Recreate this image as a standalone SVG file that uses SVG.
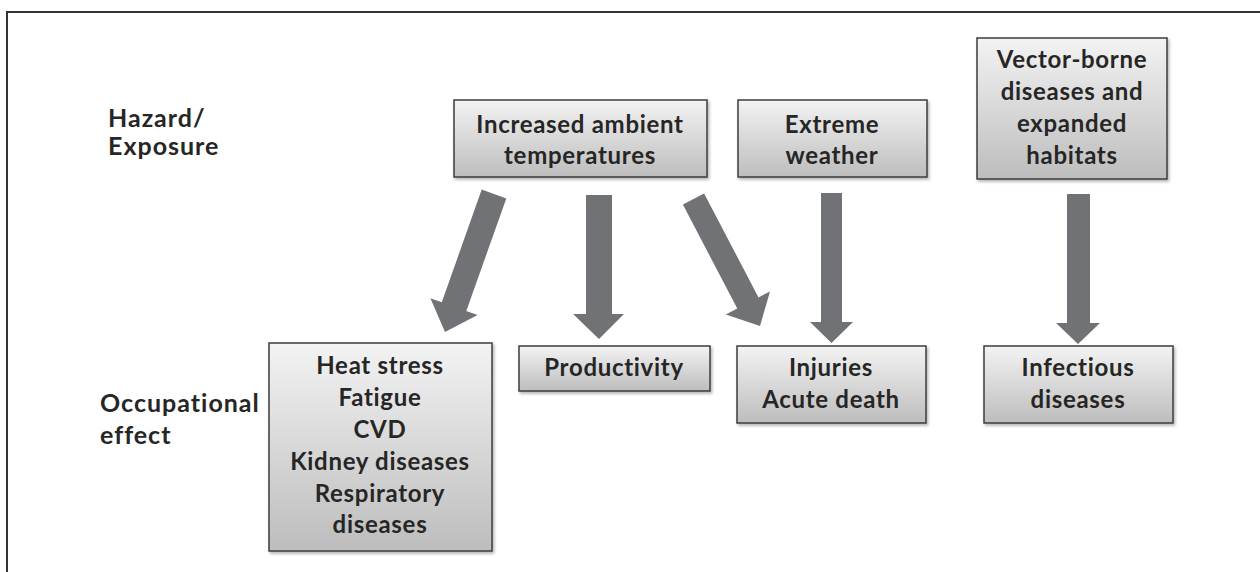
<svg xmlns="http://www.w3.org/2000/svg" width="1260" height="572" viewBox="0 0 1260 572">
<style>
  .t { font-family: Lato, "Open Sans", "Liberation Sans", sans-serif; font-weight: 700; font-size: 24px; letter-spacing: 0.7px; fill: #262626; }
  .lbl { font-size: 25px; letter-spacing: 1px; }
  .c { text-anchor: middle; }
  .box { fill: url(#g); stroke: #3c3c3c; stroke-width: 1.5; filter: url(#sh); }
  .arr { fill: #717275; stroke: none; }
  .frame { stroke: #333; stroke-width: 2; fill: none; }
</style>
<defs>
  <linearGradient id="g" x1="0" y1="0" x2="0" y2="1">
    <stop offset="0" stop-color="#f3f3f3"/>
    <stop offset="1" stop-color="#bdbdbd"/>
  </linearGradient>
  <filter id="sh" x="-10%" y="-10%" width="120%" height="130%">
    <feDropShadow dx="1.5" dy="2" stdDeviation="1.5" flood-color="#000" flood-opacity="0.3"/>
  </filter>
</defs>
<rect width="1260" height="572" fill="#fff"/>
<path class="frame" d="M7 572 V12 H1260"/>

<g id="label-hazard">
  <text class="t lbl" x="108" y="127">Hazard/</text>
  <text class="t lbl" x="108" y="155">Exposure</text>
</g>
<g id="label-occupational">
  <text class="t lbl" x="100" y="412">Occupational</text>
  <text class="t lbl" x="100" y="444">effect</text>
</g>

<g id="node-temperatures">
  <rect class="box" x="454" y="100" width="253" height="77"/>
  <text class="t c" x="580" y="133">Increased ambient</text>
  <text class="t c" x="580" y="164">temperatures</text>
</g>
<g id="node-weather">
  <rect class="box" x="738" y="100" width="189" height="77"/>
  <text class="t c" x="832" y="133">Extreme</text>
  <text class="t c" x="832" y="164">weather</text>
</g>
<g id="node-vector">
  <rect class="box" x="977" y="38" width="190" height="141"/>
  <text class="t c" x="1072" y="68">Vector-borne</text>
  <text class="t c" x="1072" y="100">diseases and</text>
  <text class="t c" x="1072" y="132">expanded</text>
  <text class="t c" x="1072" y="164">habitats</text>
</g>
<g id="node-heat">
  <rect class="box" x="269" y="343" width="223" height="208"/>
  <text class="t c" x="380" y="374">Heat stress</text>
  <text class="t c" x="380" y="406">Fatigue</text>
  <text class="t c" x="380" y="438">CVD</text>
  <text class="t c" x="380" y="470">Kidney diseases</text>
  <text class="t c" x="380" y="502">Respiratory</text>
  <text class="t c" x="380" y="533">diseases</text>
</g>
<g id="node-productivity">
  <rect class="box" x="519" y="346" width="191" height="45"/>
  <text class="t c" x="614" y="376">Productivity</text>
</g>
<g id="node-injuries">
  <rect class="box" x="737" y="346" width="189" height="77"/>
  <text class="t c" x="831" y="376">Injuries</text>
  <text class="t c" x="831" y="408">Acute death</text>
</g>
<g id="node-infectious">
  <rect class="box" x="984" y="346" width="189" height="77"/>
  <text class="t c" x="1078" y="376">Infectious</text>
  <text class="t c" x="1078" y="408">diseases</text>
</g>

<g id="connectors">
  <polygon class="arr" points="481.7,189.6 506.3,198.4 466.3,311.0 477.6,315.0 445,332 430.4,298.2 441.8,302.2"/>
  <polygon class="arr" points="586,195 612,195 612,314 624,314 599,339 573,314 586,314"/>
  <polygon class="arr" points="704.1,193.4 758.5,297.4 770.0,291.4 760,326 725.8,314.6 737.3,308.6 682.9,204.6"/>
  <polygon class="arr" points="821,193 842,193 842,322 853,322 831.5,343 810,322 821,322"/>
  <polygon class="arr" points="1067,194 1090,194 1090,323 1100,323 1078,344 1056,323 1067,323"/>
</g>
</svg>
